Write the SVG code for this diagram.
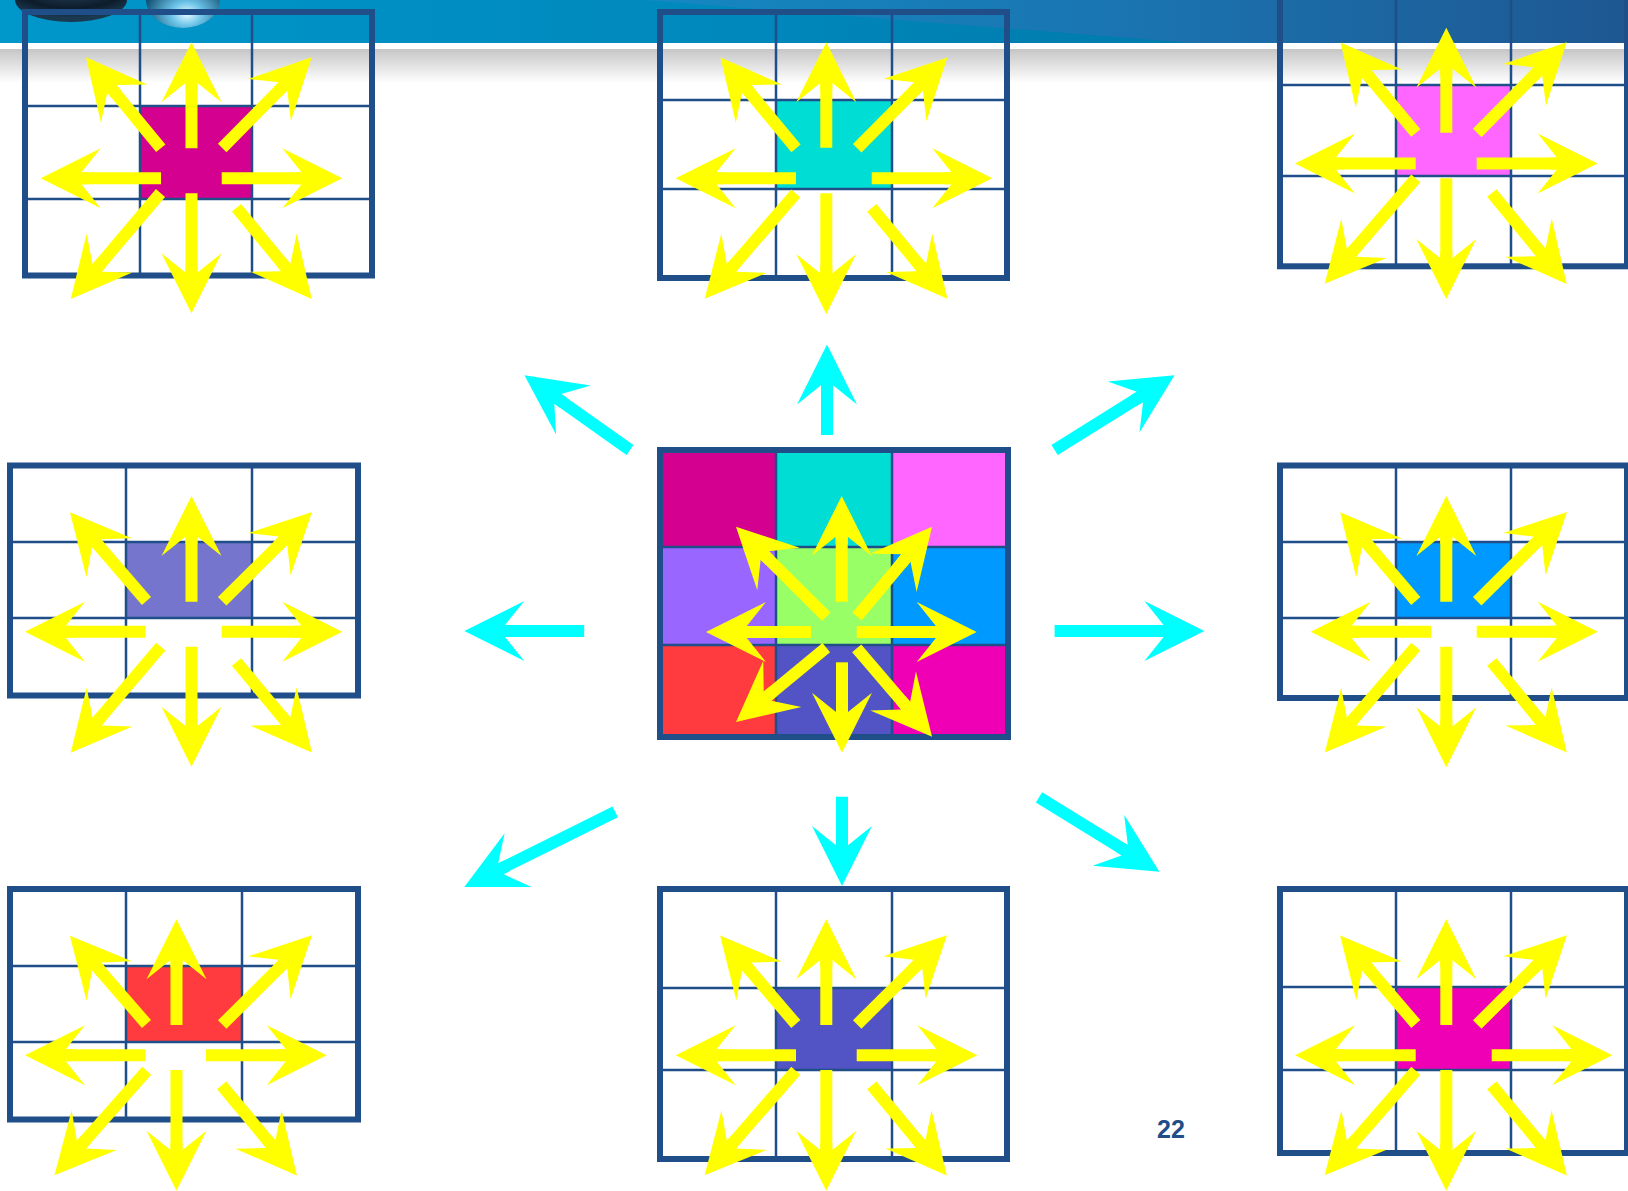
<svg xmlns="http://www.w3.org/2000/svg" width="1628" height="1191" viewBox="0 0 1628 1191">
<style>
.out{fill:none;stroke:#1F4E89;stroke-width:6}
.in{stroke:#1F4E89;stroke-width:2.5;fill:none}
.ya{stroke:#FFFF00;stroke-width:12;fill:none;marker-end:url(#hy)}
.ca{stroke:#00FFFF;stroke-width:12;fill:none;marker-end:url(#hc)}
.num{font-family:"Liberation Sans",Arial,sans-serif;font-weight:bold;font-size:25px;fill:#1F4E89}
</style>
<defs>
<marker id="hy" viewBox="0 -30 60 60" markerWidth="60" markerHeight="60" refX="20" refY="0" orient="auto" markerUnits="userSpaceOnUse" overflow="visible"><path d="M60,0 L0,-30 L19.2,-6 L12,-6 L12,6 L19.2,6 L0,30 Z" fill="#FFFF00"/></marker>
<marker id="hc" viewBox="0 -30 60 60" markerWidth="60" markerHeight="60" refX="20" refY="0" orient="auto" markerUnits="userSpaceOnUse" overflow="visible"><path d="M60,0 L0,-30 L19.2,-6 L12,-6 L12,6 L19.2,6 L0,30 Z" fill="#00FFFF"/></marker>
<linearGradient id="hdr" x1="0" y1="0" x2="1" y2="0"><stop offset="0" stop-color="#0097CA"/><stop offset="0.45" stop-color="#0088BC"/><stop offset="0.75" stop-color="#0079AA"/><stop offset="1" stop-color="#1E5A94"/></linearGradient>
<linearGradient id="hdr2" gradientUnits="userSpaceOnUse" x1="640" y1="0" x2="1628" y2="0"><stop offset="0" stop-color="#1488C2"/><stop offset="0.5" stop-color="#1A74B0"/><stop offset="1" stop-color="#1E5792"/></linearGradient>
<linearGradient id="gray" x1="0" y1="0" x2="0" y2="1"><stop offset="0" stop-color="#C6C6C6"/><stop offset="1" stop-color="#FFFFFF"/></linearGradient>
<radialGradient id="drop1" cx="0.5" cy="0.2" r="0.7"><stop offset="0" stop-color="#2A4A66"/><stop offset="0.7" stop-color="#0E1C2A"/><stop offset="1" stop-color="#1A3850"/></radialGradient>
<radialGradient id="drop2" cx="0.55" cy="0.75" r="0.6"><stop offset="0" stop-color="#E8FAFF"/><stop offset="0.35" stop-color="#6CC4E8"/><stop offset="1" stop-color="#0E4A6E"/></radialGradient>
</defs>
<rect width="1628" height="1191" fill="#FFFFFF"/>
<g id="header">
<rect x="0" y="0" width="1628" height="43" fill="url(#hdr)"/>
<polygon points="644,0 1628,0 1628,43 1194,43" fill="url(#hdr2)"/>
<rect x="0" y="49" width="1628" height="34" fill="url(#gray)"/>
<ellipse cx="71" cy="0" rx="56" ry="22" fill="url(#drop1)"/>
<ellipse cx="183" cy="0" rx="37" ry="28" fill="url(#drop2)"/>
</g>

<g id="grid-top-left">
<rect x="140" y="106" width="112" height="93" fill="#D4008F"/>
<path class="in" d="M140,12V275.5M252,12V275.5M25,106H372M25,199H372"/>
<rect class="out" x="25" y="12" width="347" height="263.5"/>
<line class="ya" x1="191.5" y1="148.3" x2="191.5" y2="82.3"/>
<line class="ya" x1="191.5" y1="193.3" x2="191.5" y2="273.3"/>
<line class="ya" x1="161" y1="178.2" x2="80.7" y2="178.2"/>
<line class="ya" x1="221.7" y1="178.2" x2="302.3" y2="178.2"/>
<line class="ya" x1="160.8" y1="148.3" x2="111.4" y2="88.2"/>
<line class="ya" x1="222.2" y1="148" x2="283.6" y2="85.8"/>
<line class="ya" x1="160.5" y1="193" x2="96.6" y2="268.5"/>
<line class="ya" x1="236.5" y1="207.8" x2="286.3" y2="268.1"/>
</g>

<g id="grid-top-center">
<rect x="776" y="100" width="116" height="89" fill="#00DDD4"/>
<path class="in" d="M776,12V278M892,12V278M660,100H1007M660,189H1007"/>
<rect class="out" x="660" y="12" width="347" height="266"/>
<line class="ya" x1="826.3" y1="147.7" x2="826.3" y2="82.3"/>
<line class="ya" x1="826.3" y1="193.3" x2="826.3" y2="274"/>
<line class="ya" x1="796" y1="178.2" x2="715.7" y2="178.2"/>
<line class="ya" x1="871.7" y1="178.2" x2="952.3" y2="178.2"/>
<line class="ya" x1="796" y1="148.3" x2="746.1" y2="88.2"/>
<line class="ya" x1="857.2" y1="148.3" x2="919.2" y2="85.8"/>
<line class="ya" x1="795.8" y1="193.3" x2="730.9" y2="268.5"/>
<line class="ya" x1="871.8" y1="207.8" x2="921.9" y2="268.1"/>
</g>

<g id="grid-top-right">
<rect x="1396" y="85" width="115" height="91" fill="#FF66FF"/>
<path class="in" d="M1396,-6V266.3M1511,-6V266.3M1280,85H1627M1280,176H1627"/>
<rect class="out" x="1280" y="-6" width="347" height="272.3"/>
<line class="ya" x1="1446.3" y1="132.7" x2="1446.3" y2="67.7"/>
<line class="ya" x1="1446.3" y1="178.3" x2="1446.3" y2="259"/>
<line class="ya" x1="1415.7" y1="163.5" x2="1335" y2="163.5"/>
<line class="ya" x1="1476.7" y1="163.5" x2="1557.7" y2="163.5"/>
<line class="ya" x1="1415.8" y1="133" x2="1366.1" y2="73.2"/>
<line class="ya" x1="1477.2" y1="133" x2="1538.6" y2="70.8"/>
<line class="ya" x1="1415.8" y1="178.3" x2="1350.9" y2="253.5"/>
<line class="ya" x1="1491.8" y1="193" x2="1541.3" y2="253.1"/>
</g>

<g id="grid-middle-left">
<rect x="126" y="542" width="126" height="76" fill="#7575CE"/>
<path class="in" d="M126,465.5V695.5M252,465.5V695.5M10,542H358M10,618H358"/>
<rect class="out" x="10" y="465.5" width="348" height="230"/>
<line class="ya" x1="191.5" y1="601.7" x2="191.5" y2="536"/>
<line class="ya" x1="191.5" y1="646.7" x2="191.5" y2="726.7"/>
<line class="ya" x1="145.7" y1="631.8" x2="65" y2="631.8"/>
<line class="ya" x1="221.7" y1="631.8" x2="302.3" y2="631.8"/>
<line class="ya" x1="146.5" y1="601" x2="96.1" y2="542.6"/>
<line class="ya" x1="222.2" y1="601.3" x2="283.6" y2="540.2"/>
<line class="ya" x1="160.8" y1="646.7" x2="96.6" y2="722.2"/>
<line class="ya" x1="236.5" y1="662" x2="286.3" y2="721.8"/>
</g>

<g id="grid-center">
<rect x="660" y="450" width="116" height="97" fill="#D4008F"/>
<rect x="776" y="450" width="116" height="97" fill="#00DDD4"/>
<rect x="892" y="450" width="116" height="97" fill="#FF66FF"/>
<rect x="660" y="547" width="116" height="98" fill="#9966FF"/>
<rect x="776" y="547" width="116" height="98" fill="#99FF66"/>
<rect x="892" y="547" width="116" height="98" fill="#0099FF"/>
<rect x="660" y="645" width="116" height="92" fill="#FF3B3F"/>
<rect x="776" y="645" width="116" height="92" fill="#5254C5"/>
<rect x="892" y="645" width="116" height="92" fill="#F000B4"/>
<path class="in" d="M776,450V737M892,450V737M660,547H1008M660,645H1008"/>
<rect class="out" x="660" y="450" width="348" height="287"/>
<line class="ya" x1="841.7" y1="601.7" x2="841.7" y2="536"/>
<line class="ya" x1="842" y1="662.3" x2="842" y2="712.7"/>
<line class="ya" x1="811" y1="632" x2="746" y2="632"/>
<line class="ya" x1="856.7" y1="632" x2="936.7" y2="632"/>
<line class="ya" x1="826.3" y1="616.7" x2="764.3" y2="554.9"/>
<line class="ya" x1="857" y1="616.7" x2="906.4" y2="557.4"/>
<line class="ya" x1="826.3" y1="647.7" x2="766.9" y2="696.6"/>
<line class="ya" x1="856.7" y1="648.3" x2="906.1" y2="706.2"/>
</g>

<g id="grid-middle-right">
<rect x="1396" y="542" width="115" height="76" fill="#0099FF"/>
<path class="in" d="M1396,465.5V698M1511,465.5V698M1280,542H1627M1280,618H1627"/>
<rect class="out" x="1280" y="465.5" width="347" height="232.5"/>
<line class="ya" x1="1446.3" y1="601.7" x2="1446.3" y2="536"/>
<line class="ya" x1="1446.3" y1="646.7" x2="1446.3" y2="727.3"/>
<line class="ya" x1="1431" y1="631.8" x2="1350.7" y2="631.8"/>
<line class="ya" x1="1476.7" y1="631.8" x2="1557.7" y2="631.8"/>
<line class="ya" x1="1415.8" y1="601" x2="1366.1" y2="542.6"/>
<line class="ya" x1="1477.2" y1="601.3" x2="1538.6" y2="540.2"/>
<line class="ya" x1="1415.8" y1="646.7" x2="1350.9" y2="722.2"/>
<line class="ya" x1="1491.8" y1="662" x2="1541.3" y2="721.8"/>
</g>

<g id="grid-bottom-left">
<rect x="126" y="966" width="116" height="76" fill="#FF3B3F"/>
<path class="in" d="M126,889V1119.5M242,889V1119.5M10,966H358M10,1042H358"/>
<rect class="out" x="10" y="889" width="348" height="230.5"/>
<line class="ya" x1="176.5" y1="1025" x2="176.5" y2="959.3"/>
<line class="ya" x1="176.5" y1="1070" x2="176.5" y2="1150.7"/>
<line class="ya" x1="145.7" y1="1055.2" x2="65" y2="1055.2"/>
<line class="ya" x1="206" y1="1055.2" x2="286.7" y2="1055.2"/>
<line class="ya" x1="146.5" y1="1024" x2="96.1" y2="965.9"/>
<line class="ya" x1="222.2" y1="1024.5" x2="283.6" y2="963.5"/>
<line class="ya" x1="146.7" y1="1070.7" x2="80.9" y2="1145.2"/>
<line class="ya" x1="221.7" y1="1085.3" x2="271.3" y2="1144.8"/>
</g>

<g id="grid-bottom-center">
<rect x="776" y="988" width="116" height="82" fill="#5254C5"/>
<path class="in" d="M776,889V1159M892,889V1159M660,988H1007M660,1070H1007"/>
<rect class="out" x="660" y="889" width="347" height="270"/>
<line class="ya" x1="826.3" y1="1025" x2="826.3" y2="959.3"/>
<line class="ya" x1="826.3" y1="1070" x2="826.3" y2="1150.7"/>
<line class="ya" x1="796" y1="1055.2" x2="715.7" y2="1055.2"/>
<line class="ya" x1="856.7" y1="1055.2" x2="937.3" y2="1055.2"/>
<line class="ya" x1="795.8" y1="1024" x2="746.1" y2="965.9"/>
<line class="ya" x1="857.2" y1="1024.5" x2="918.6" y2="963.5"/>
<line class="ya" x1="795.8" y1="1070.7" x2="730.9" y2="1145.2"/>
<line class="ya" x1="871.8" y1="1085.3" x2="921.3" y2="1144.8"/>
</g>

<g id="grid-bottom-right">
<rect x="1396" y="987" width="115" height="83" fill="#F000B4"/>
<path class="in" d="M1396,889V1153M1511,889V1153M1280,987H1627M1280,1070H1627"/>
<rect class="out" x="1280" y="889" width="347" height="264"/>
<line class="ya" x1="1446.3" y1="1025" x2="1446.3" y2="959.3"/>
<line class="ya" x1="1446.3" y1="1070" x2="1446.3" y2="1150.7"/>
<line class="ya" x1="1415.7" y1="1055.2" x2="1335" y2="1055.2"/>
<line class="ya" x1="1491.7" y1="1055.2" x2="1572.3" y2="1055.2"/>
<line class="ya" x1="1415.8" y1="1024" x2="1366.1" y2="965.9"/>
<line class="ya" x1="1477.2" y1="1024.5" x2="1538.6" y2="963.5"/>
<line class="ya" x1="1415.8" y1="1070.7" x2="1350.9" y2="1145.2"/>
<line class="ya" x1="1491.8" y1="1085.3" x2="1541.3" y2="1144.8"/>
</g>

<g id="connectors">
<line class="ca" x1="827" y1="435" x2="827" y2="384.5"/>
<line class="ca" x1="630" y1="450" x2="557.1" y2="398.4"/>
<line class="ca" x1="1054.6" y1="450" x2="1140.6" y2="396.4"/>
<line class="ca" x1="584.2" y1="631" x2="504.3" y2="631"/>
<line class="ca" x1="1054.6" y1="631" x2="1164.4" y2="631"/>
<line class="ca" x1="842" y1="796.7" x2="842" y2="846"/>
<line class="ca" x1="615.2" y1="811.9" x2="500.1" y2="869.1"/>
<line class="ca" x1="1039" y1="797.4" x2="1125.4" y2="850.7"/>
</g>

<text class="num" x="1157" y="1138">22</text>
</svg>
